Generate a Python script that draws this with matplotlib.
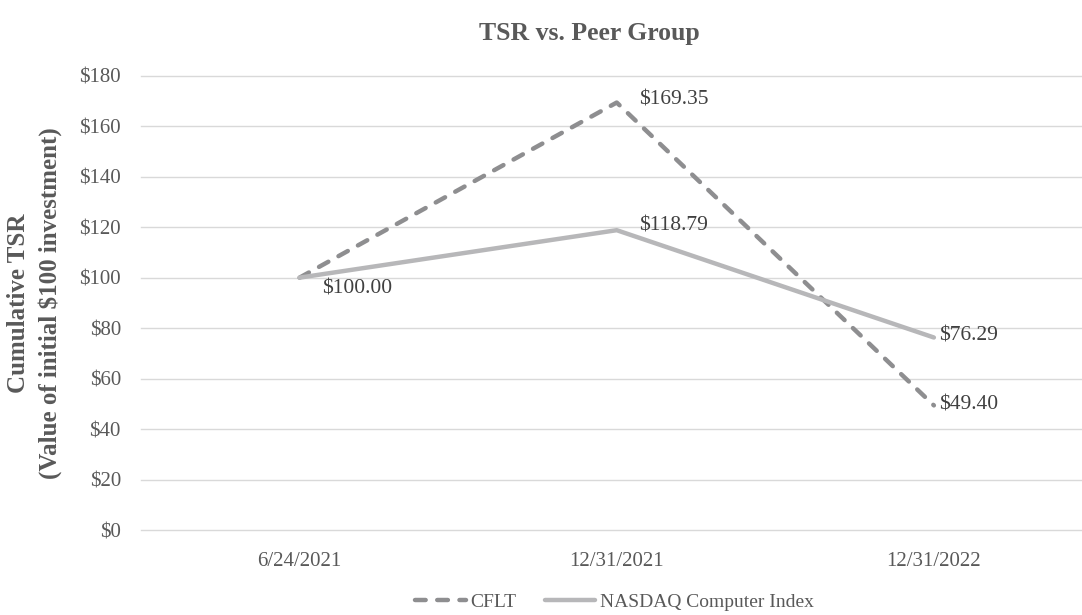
import matplotlib
matplotlib.use('Agg')
import matplotlib.pyplot as plt

dates = ['6/24/2021', '12/31/2021', '12/31/2022']
cflt = [100.00, 169.35, 49.40]
nasdaq = [100.00, 118.79, 76.29]
y_ticks = [0, 20, 40, 60, 80, 100, 120, 140, 160, 180]

plt.rcParams['font.family'] = ['Liberation Serif', 'DejaVu Serif']

fig = plt.figure(figsize=(10.82, 6.15), dpi=100)
ax = fig.add_axes([0.1303, 0.138, 0.8697, 0.739])

x = list(range(len(dates)))
ax.plot(x, cflt, color='#8e8e90', lw=3.2, dashes=(2.4, 2.6),
        dash_capstyle='round', solid_capstyle='round', label='CFLT', zorder=3)
ax.plot(x, nasdaq, color='#b7b7b9', lw=3.2, solid_capstyle='round',
        label='NASDAQ Computer Index', zorder=3)

txt = '#404040'
# point labels, offsets in points
offsets = {
    ('c', 1): (16, 2), ('n', 1): (16, 3), ('n', 0): (16, -8),
    ('n', 2): (4, 1), ('c', 2): (4, 0),
}
for (k, i), off in offsets.items():
    v = cflt[i] if k == 'c' else nasdaq[i]
    ax.annotate('$%.2f' % v, (x[i], v), xytext=off, textcoords='offset points',
                ha='left', va='center', fontsize=15.5, color=txt)

ax.set_xlim(-0.5, 2.467)
ax.set_ylim(0, 180)
ax.set_xticks(x)
ax.set_xticklabels(dates)
ax.set_yticks(y_ticks)
ax.set_yticklabels(['$%d' % v for v in y_ticks])
ax.tick_params(axis='both', length=0, labelsize=15, labelcolor='#595959')
ax.tick_params(axis='x', pad=16)
ax.tick_params(axis='y', pad=14.5)
ax.grid(axis='y', color='#d9d9d9', lw=1)
for gl in ax.get_ygridlines():
    gl.set_clip_on(False)
ax.set_axisbelow(True)
for s in ax.spines.values():
    s.set_visible(False)

ax.set_ylabel('Cumulative TSR\n(Value of initial $100 investment)', fontsize=18,
              fontweight='bold', color='#595959', labelpad=12, linespacing=1.45)
fig.text(0.545, 0.945, 'TSR vs. Peer Group', ha='center', va='center',
         fontsize=18.5, fontweight='bold', color='#595959')

leg = fig.legend(loc='center', bbox_to_anchor=(0.568, 0.021), ncol=2, frameon=False,
                 fontsize=14, handlelength=2.6, handletextpad=0.25, columnspacing=1.45)
for t in leg.get_texts():
    t.set_color('#595959')

fig.savefig('out.png', dpi=100)
